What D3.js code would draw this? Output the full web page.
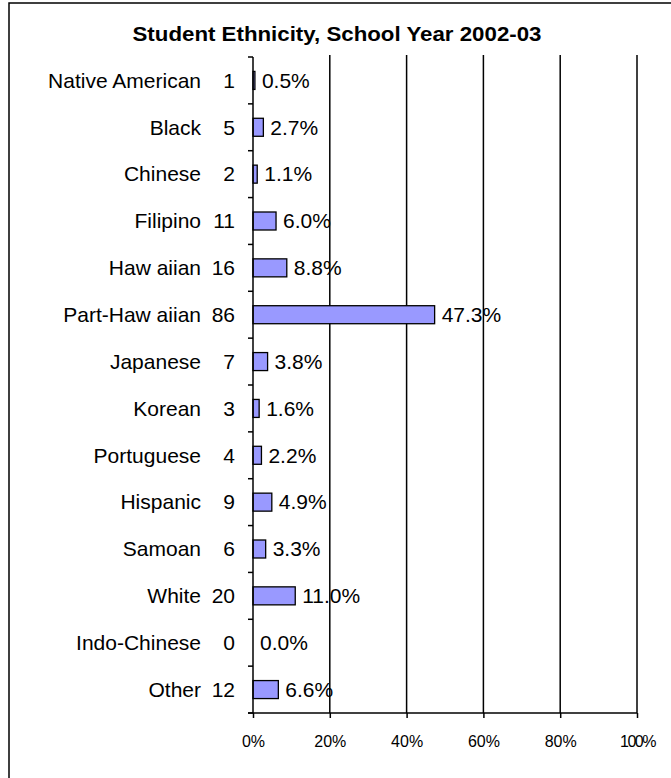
<!DOCTYPE html>
<html>
<head>
<meta charset="utf-8">
<script src="https://cdn.jsdelivr.net/npm/d3@7"></script>
<style>
  html, body { margin: 0; padding: 0; background: #fff; }
  svg { display: block; font-family: "Liberation Sans", Arial, sans-serif; }
</style>
</head>
<body>
<svg id="chart" width="671" height="778"></svg>
<script>
// Student counts and shares by ethnicity
const categories = ["Native American", "Black", "Chinese", "Filipino", "Haw aiian", "Part-Haw aiian",
  "Japanese", "Korean", "Portuguese", "Hispanic", "Samoan", "White", "Indo-Chinese", "Other"];
const counts = [1, 5, 2, 11, 16, 86, 7, 3, 4, 9, 6, 20, 0, 12];
const percents = [0.5, 2.7, 1.1, 6.0, 8.8, 47.3, 3.8, 1.6, 2.2, 4.9, 3.3, 11.0, 0.0, 6.6];
const tickValues = [0, 20, 40, 60, 80, 100];
const title = "Student Ethnicity, School Year 2002-03";

const svg = d3.select("#chart");

// outer frame
svg.append("rect")
  .attr("x", 9).attr("y", 3)
  .attr("width", 700).attr("height", 800)
  .attr("fill", "none").attr("stroke", "#000").attr("stroke-width", 1.5);

svg.append("text")
  .attr("x", 337).attr("y", 41)
  .attr("text-anchor", "middle")
  .attr("font-size", 21).attr("font-weight", "bold")
  .attr("textLength", 409).attr("lengthAdjust", "spacingAndGlyphs")
  .text(title);

const x = d3.scaleLinear().domain([0, 100]).range([253, 637]);
const band = d3.scaleBand().domain(categories).range([57, 713]);

// vertical gridlines
svg.append("g")
  .selectAll("line")
  .data(tickValues.filter(d => d > 0))
  .join("line")
  .attr("x1", d => x(d)).attr("x2", d => x(d))
  .attr("y1", 55).attr("y2", 713)
  .attr("stroke", "#000").attr("stroke-width", 1.5);

// bars
svg.append("g")
  .selectAll("rect")
  .data(categories)
  .join("rect")
  .attr("x", x(0))
  .attr("y", (d) => band(d) + band.bandwidth() / 2 - 9)
  .attr("width", (d, i) => x(percents[i]) - x(0))
  .attr("height", 18)
  .attr("fill", "#9999FF")
  .attr("stroke", "#000")
  .attr("stroke-width", (d, i) => percents[i] > 0 ? 1.3 : 0);

// value labels
svg.append("g")
  .selectAll("text")
  .data(categories)
  .join("text")
  .attr("x", (d, i) => x(percents[i]) + 7)
  .attr("y", d => band(d) + band.bandwidth() / 2)
  .attr("dy", "0.35em")
  .attr("font-size", 21)
  .text((d, i) => percents[i].toFixed(1) + "%");

// category names and counts
const labels = svg.append("g");
labels.selectAll("text.cat")
  .data(categories)
  .join("text")
  .attr("class", "cat")
  .attr("x", 201)
  .attr("y", d => band(d) + band.bandwidth() / 2)
  .attr("dy", "0.35em")
  .attr("text-anchor", "end")
  .attr("font-size", 21)
  .text(d => d);
labels.selectAll("text.cnt")
  .data(categories)
  .join("text")
  .attr("class", "cnt")
  .attr("x", 235)
  .attr("y", d => band(d) + band.bandwidth() / 2)
  .attr("dy", "0.35em")
  .attr("text-anchor", "end")
  .attr("font-size", 21)
  .text((d, i) => counts[i]);

// category axis: vertical line with ticks at band boundaries
const boundaries = categories.map(c => band(c)).concat([713]);
const yAxis = svg.append("g");
yAxis.append("line")
  .attr("x1", x(0)).attr("x2", x(0))
  .attr("y1", 57).attr("y2", 713)
  .attr("stroke", "#000").attr("stroke-width", 1.5);
yAxis.selectAll("line.tick")
  .data(boundaries)
  .join("line")
  .attr("class", "tick")
  .attr("x1", x(0) - 5).attr("x2", x(0))
  .attr("y1", d => d).attr("y2", d => d)
  .attr("stroke", "#000").attr("stroke-width", 1.5);

// value axis
const xAxis = svg.append("g").attr("transform", "translate(0,713)")
  .call(d3.axisBottom(x).tickValues(tickValues).tickSize(5).tickFormat(d => d + "%"));
xAxis.select(".domain").attr("stroke", "#000").attr("stroke-width", 1.5)
  .attr("d", `M${x(0) - 5},0H${x(100)}`);
xAxis.selectAll(".tick line").attr("stroke", "#000").attr("stroke-width", 1.5);
xAxis.selectAll(".tick text")
  .attr("font-family", "\"Liberation Sans\", Arial, sans-serif")
  .attr("font-size", 16).attr("fill", "#000")
  .attr("y", 28).attr("dy", "0.35em")
  .attr("letter-spacing", (d) => d === 100 ? "-1.5px" : null);
</script>
</body>
</html>
